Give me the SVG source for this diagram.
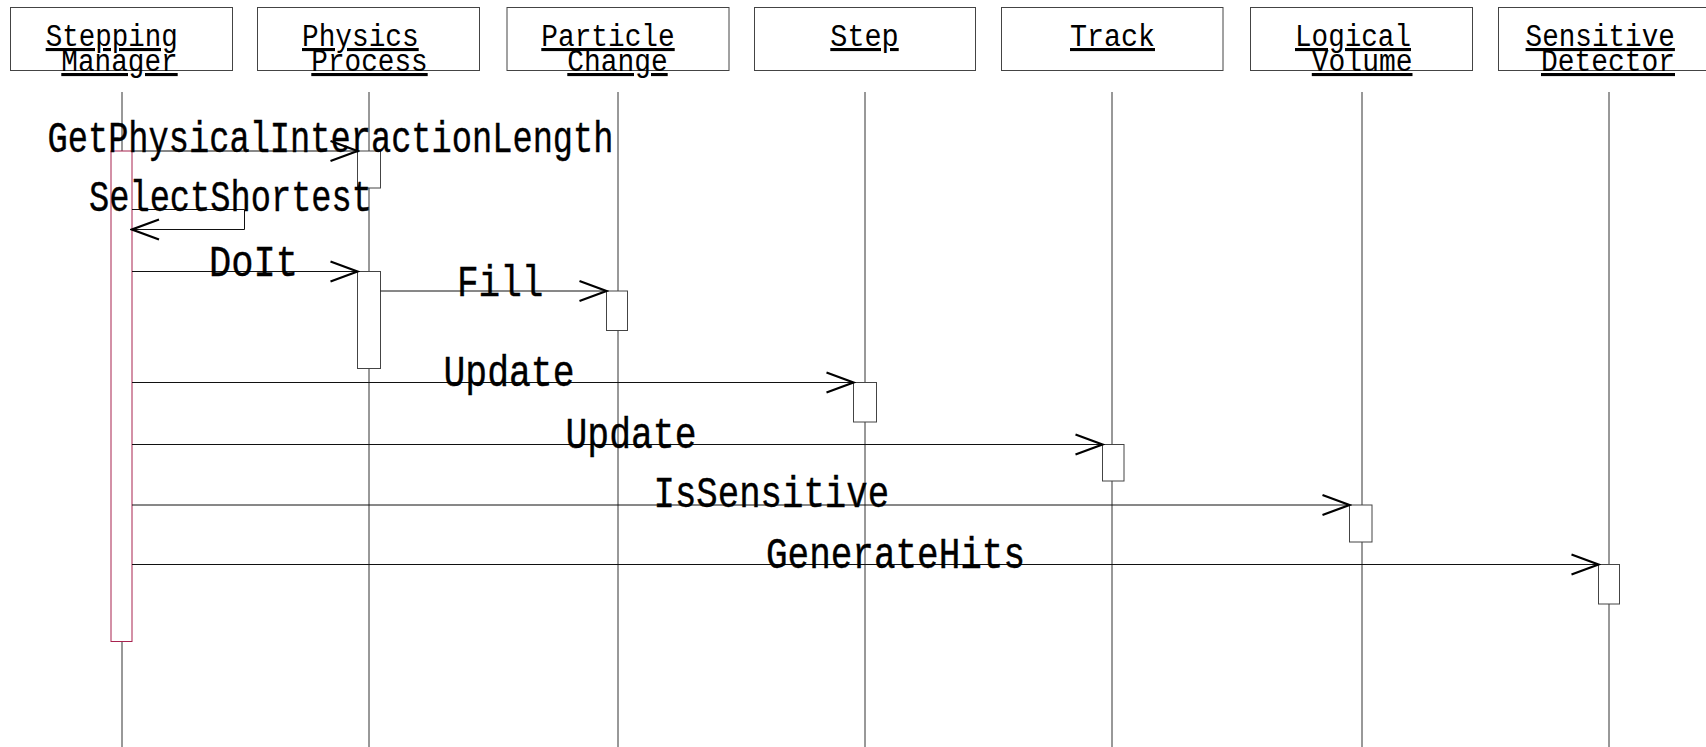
<svg xmlns="http://www.w3.org/2000/svg" width="1706" height="747" viewBox="0 0 1706 747">
<style>
.bg{fill:#ffffff}
.head{fill:#ffffff;stroke:#444444;stroke-width:1}
.life{stroke:#333333;stroke-width:1;fill:none}
.act{fill:#ffffff;stroke:#444444;stroke-width:1}
.actm{fill:#ffffff;stroke:#a8234f;stroke-width:1}
.msg{stroke:#111111;stroke-width:1;fill:none}
.ah{stroke:#000000;stroke-width:2.2;fill:none;stroke-linecap:butt}
.hl{font-family:"Liberation Mono","DejaVu Sans Mono",monospace;font-size:31px;fill:#000;text-decoration:underline}
.ml{font-family:"Liberation Mono","DejaVu Sans Mono",monospace;font-size:44px;fill:#000;stroke:#000;stroke-width:0.4}
</style>
<defs>
<marker id="arr" viewBox="0 0 30 24" refX="28" refY="12" markerWidth="30" markerHeight="24" markerUnits="userSpaceOnUse" orient="auto">
<path class="ah" d="M1 2 L28 12 L1 22"/>
</marker>
</defs>
<rect class="bg" x="0" y="0" width="1706" height="747"/>

<g id="lifelines">
<line class="life" x1="122" y1="92" x2="122" y2="747"/>
<line class="life" x1="369" y1="92" x2="369" y2="747"/>
<line class="life" x1="618" y1="92" x2="618" y2="747"/>
<line class="life" x1="865" y1="92" x2="865" y2="747"/>
<line class="life" x1="1112" y1="92" x2="1112" y2="747"/>
<line class="life" x1="1362" y1="92" x2="1362" y2="747"/>
<line class="life" x1="1609" y1="92" x2="1609" y2="747"/>
</g>

<g id="node-stepping-manager">
<rect class="head" x="10.5" y="7.5" width="222" height="63"/>
<text class="hl" x="45.7" y="46" textLength="132" lengthAdjust="spacingAndGlyphs">Stepping</text>
<text class="hl" x="61.3" y="71" textLength="116.4" lengthAdjust="spacingAndGlyphs">Manager</text>
<rect class="actm" x="111" y="151" width="21" height="490.5"/>
</g>

<g id="node-physics-process">
<rect class="head" x="257.5" y="7.5" width="222" height="63"/>
<text class="hl" x="302" y="46" textLength="116.7" lengthAdjust="spacingAndGlyphs">Physics</text>
<text class="hl" x="311.3" y="71" textLength="116.4" lengthAdjust="spacingAndGlyphs">Process</text>
<rect class="act" x="357.5" y="151" width="23" height="37"/>
<rect class="act" x="357.5" y="271.5" width="23" height="97"/>
</g>

<g id="node-particle-change">
<rect class="head" x="507" y="7.5" width="222" height="63"/>
<text class="hl" x="541.3" y="46" textLength="133.4" lengthAdjust="spacingAndGlyphs">Particle</text>
<text class="hl" x="567.3" y="71" textLength="100.4" lengthAdjust="spacingAndGlyphs">Change</text>
<rect class="act" x="606.5" y="291" width="21" height="39.5"/>
</g>

<g id="node-step">
<rect class="head" x="754.5" y="7.5" width="221" height="63"/>
<text class="hl" x="830.3" y="46" textLength="68.4" lengthAdjust="spacingAndGlyphs">Step</text>
<rect class="act" x="853.5" y="382.5" width="23" height="39.5"/>
</g>

<g id="node-track">
<rect class="head" x="1001.5" y="7.5" width="221.5" height="63"/>
<text class="hl" x="1070" y="46" textLength="85" lengthAdjust="spacingAndGlyphs">Track</text>
<rect class="act" x="1102.5" y="444.5" width="21.5" height="36.5"/>
</g>

<g id="node-logical-volume">
<rect class="head" x="1250.5" y="7.5" width="222" height="63"/>
<text class="hl" x="1295" y="46" textLength="116" lengthAdjust="spacingAndGlyphs">Logical</text>
<text class="hl" x="1311.8" y="71" textLength="100.7" lengthAdjust="spacingAndGlyphs">Volume</text>
<rect class="act" x="1349.5" y="505" width="22.5" height="37"/>
</g>

<g id="node-sensitive-detector">
<rect class="head" x="1498.5" y="7.5" width="222" height="63"/>
<text class="hl" x="1525.6" y="46" textLength="149.3" lengthAdjust="spacingAndGlyphs">Sensitive</text>
<text class="hl" x="1541" y="71" textLength="134" lengthAdjust="spacingAndGlyphs">Detector</text>
<rect class="act" x="1598.5" y="564.5" width="21" height="39.5"/>
</g>

<g id="connectors">
<line class="msg" x1="132" y1="151" x2="357.5" y2="151" marker-end="url(#arr)"/>
<path class="msg" d="M132 209.5 H244.5 V229.5 H132" marker-end="url(#arr)"/>
<line class="msg" x1="132" y1="271.5" x2="357.5" y2="271.5" marker-end="url(#arr)"/>
<line class="msg" x1="380.5" y1="291" x2="606.5" y2="291" marker-end="url(#arr)"/>
<line class="msg" x1="132" y1="382.5" x2="853.5" y2="382.5" marker-end="url(#arr)"/>
<line class="msg" x1="132" y1="444.5" x2="1102.5" y2="444.5" marker-end="url(#arr)"/>
<line class="msg" x1="132" y1="505" x2="1349.5" y2="505" marker-end="url(#arr)"/>
<line class="msg" x1="132" y1="564.5" x2="1598.5" y2="564.5" marker-end="url(#arr)"/>
</g>

<g id="labels">
<text class="ml" x="47.5" y="152" textLength="566" lengthAdjust="spacingAndGlyphs">GetPhysicalInteractionLength</text>
<text class="ml" x="89" y="211" textLength="283" lengthAdjust="spacingAndGlyphs">SelectShortest</text>
<text class="ml" x="209" y="275.5" textLength="89" lengthAdjust="spacingAndGlyphs">DoIt</text>
<text class="ml" x="457" y="295.5" textLength="86.5" lengthAdjust="spacingAndGlyphs">Fill</text>
<text class="ml" x="443.5" y="385.5" textLength="131" lengthAdjust="spacingAndGlyphs">Update</text>
<text class="ml" x="565.5" y="447.5" textLength="131" lengthAdjust="spacingAndGlyphs">Update</text>
<text class="ml" x="653.5" y="507" textLength="235.6" lengthAdjust="spacingAndGlyphs">IsSensitive</text>
<text class="ml" x="766" y="568" textLength="259" lengthAdjust="spacingAndGlyphs">GenerateHits</text>
</g>
</svg>
